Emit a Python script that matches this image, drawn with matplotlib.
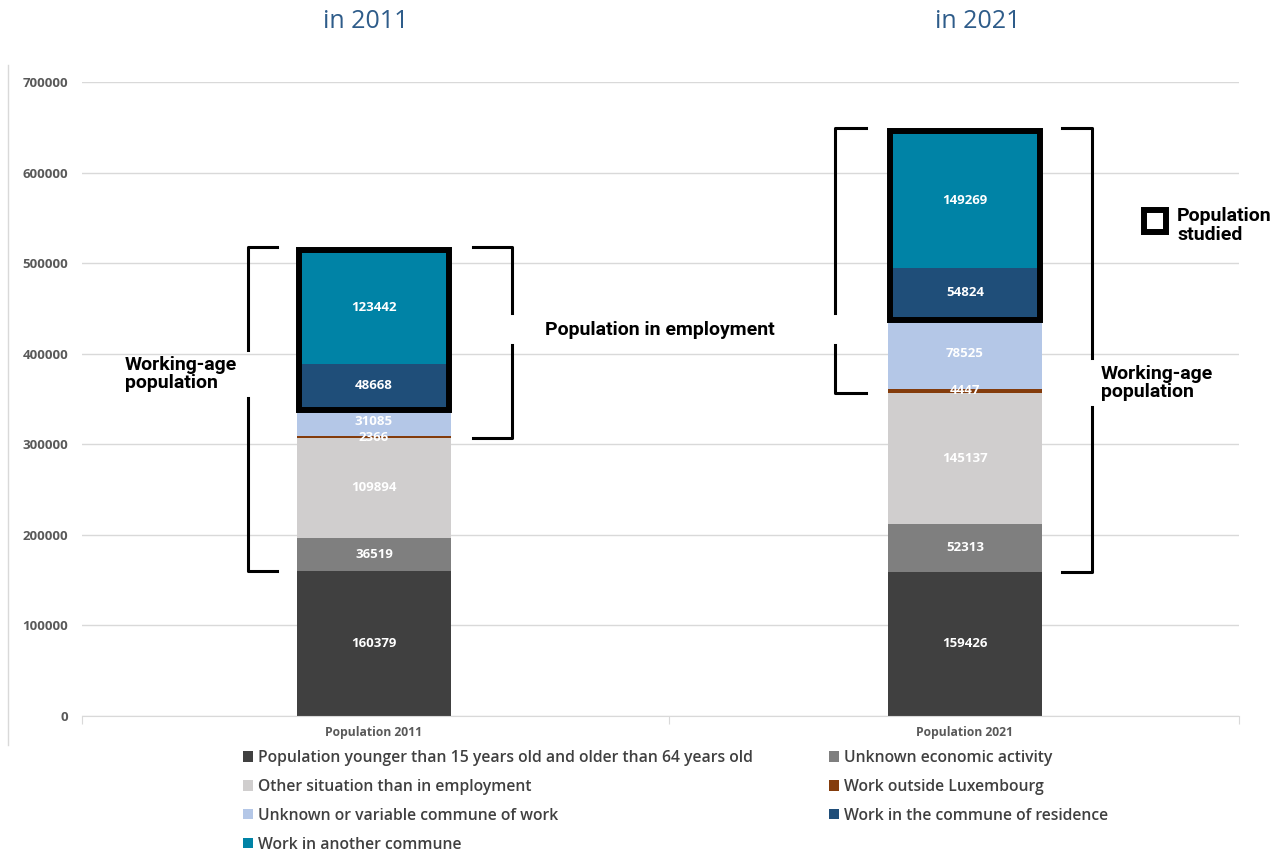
import matplotlib.pyplot as plt
import numpy as np
from matplotlib.lines import Line2D
from matplotlib.patches import Patch, Rectangle

# ---- data ----
categories = ['Population 2011', 'Population 2021']
titles = ['in 2011', 'in 2021']
series_names = [
    'Population younger than 15 years old and older than 64 years old',
    'Unknown economic activity',
    'Other situation than in employment',
    'Work outside Luxembourg',
    'Unknown or variable commune of work',
    'Work in the commune of residence',
    'Work in another commune',
]
younger_older = [160379, 159426]
unknown_activity = [36519, 52313]
other_situation = [109894, 145137]
outside_lux = [2366, 4447]
unknown_commune = [31085, 78525]
commune_residence = [48668, 54824]
another_commune = [123442, 149269]
series_values = [younger_older, unknown_activity, other_situation, outside_lux,
                 unknown_commune, commune_residence, another_commune]
colors = ['#404040', '#7f7f7f', '#d0cece', '#843c0c', '#b4c7e7', '#1f4e79', '#0083a6']

# ---- figure geometry (pixels) ----
W, H = 1279, 851
def fx(x):
    return x / W
def fy(y):
    return 1 - y / H

fig = plt.figure(figsize=(W / 100, H / 100), dpi=100)
ax = fig.add_axes([fx(82), fy(716), (1239 - 82) / W, (716 - 82) / H])

x = np.arange(len(categories))
bw = 0.262
bottom = np.zeros(len(categories))
handles = []
for vals, col, name in zip(series_values, colors, series_names):
    bars = ax.bar(x, vals, bw, bottom=bottom, color=col, zorder=2)
    ax.bar_label(bars, labels=[str(v) for v in vals], label_type='center',
                 color='white', fontsize=9.5, fontweight='bold', family='Open Sans')
    bottom += np.array(vals)
    handles.append(Patch(facecolor=col, label=name))

cum = np.cumsum(np.array(series_values), axis=0)

ax.set_xlim(-0.494, 1.4636)
ax.set_ylim(0, 700000)
ax.set_yticks(range(0, 700001, 100000))
ax.set_yticklabels([str(v) for v in range(0, 700001, 100000)])
ax.yaxis.grid(True, color='#d9d9d9', lw=1, zorder=0)
ax.set_axisbelow(True)
for s in ['left', 'right', 'top']:
    ax.spines[s].set_visible(False)
ax.spines['bottom'].set_color('#d9d9d9')
ax.tick_params(axis='y', length=0, pad=10, labelsize=9.5, labelcolor='#595959')
for lbl in ax.get_yticklabels():
    lbl.set_fontweight('bold')
    lbl.set_family('Open Sans')

ax.set_xticks([-0.494, 0.5, 1.4636])
ax.set_xticklabels([])
ax.tick_params(axis='x', which='major', length=6, color='#d9d9d9')
ax.set_xticks(x, minor=True)
ax.set_xticklabels(categories, minor=True)
ax.tick_params(axis='x', which='minor', length=0, pad=7, labelsize=8.7, labelcolor='#595959')
for lbl in ax.get_xticklabels(minor=True):
    lbl.set_fontweight('bold')
    lbl.set_family('Open Sans')

# ---- population studied boxes ----
inset, pad = 0.004, 2500
for i in range(len(categories)):
    y0, y1 = cum[4, i], cum[6, i]
    ax.add_patch(Rectangle((x[i] - bw / 2 + inset, y0 - pad), bw - 2 * inset, y1 - y0 + 2 * pad,
                           fill=False, ec='black', lw=4.3, zorder=4, clip_on=False))

# ---- brackets ----
def bracket(xv, xt, y0, y1, gap):
    ax.plot([xt, xv, xv], [y1, y1, gap[1]], color='black', lw=2.2, clip_on=False, zorder=4)
    ax.plot([xv, xv, xt], [gap[0], y0, y0], color='black', lw=2.2, clip_on=False, zorder=4)

top_pad = 5000
bracket(-0.2132, -0.164, cum[0, 0], cum[6, 0] + top_pad, (351100, 404100))
bracket(0.2335, 0.1675, cum[2, 0], cum[6, 0] + top_pad, (409600, 445000))
bracket(0.780, 0.8325, cum[2, 1], cum[6, 1] + top_pad, (409600, 445000))
bracket(1.2149, 1.164, cum[0, 1], cum[6, 1] + top_pad, (341200, 395300))

# ---- annotations ----
ann = dict(fontsize=14, fontweight='bold', family='Roboto', color='black', linespacing=1.05)
fig.text(fx(125), fy(374), 'Working-age\npopulation', ha='left', va='center', **ann)
fig.text(fx(545), fy(330), 'Population in employment', ha='left', va='center', **ann)
fig.text(fx(1101), fy(383), 'Working-age\npopulation', ha='left', va='center', **ann)
fig.text(fx(1177), fy(225.5), 'Population\nstudied', ha='left', va='center', **ann)
fig.add_artist(Line2D([fx(1154.5)], [fy(220.5)], marker='s', ms=16, mfc='white', mec='black',
                      mew=4.3, transform=fig.transFigure))

for t, cx in zip(titles, [366, 978]):
    fig.text(fx(cx), fy(22), t, ha='center', va='center', fontsize=18,
             color='#2e5c8a', family='Open Sans')

# left border of chart area
fig.add_artist(Line2D([fx(7.5), fx(7.5)], [fy(65), fy(745)], color='#d9d9d9', lw=1,
                      transform=fig.transFigure))

# ---- legend (two columns, row-major order) ----
leg_kw = dict(loc='upper left', frameon=False, borderpad=0, borderaxespad=0,
              handlelength=0.64, handleheight=0.64, handletextpad=0.32, labelspacing=0.82,
              labelcolor='#404040', prop=dict(family='Open Sans', weight='semibold', size=11.3))
fig.legend(handles=[handles[i] for i in (0, 2, 4, 6)], bbox_to_anchor=(fx(243), fy(750)), **leg_kw)
fig.legend(handles=[handles[i] for i in (1, 3, 5)], bbox_to_anchor=(fx(829), fy(750)), **leg_kw)

fig.savefig('out.png', dpi=100)
